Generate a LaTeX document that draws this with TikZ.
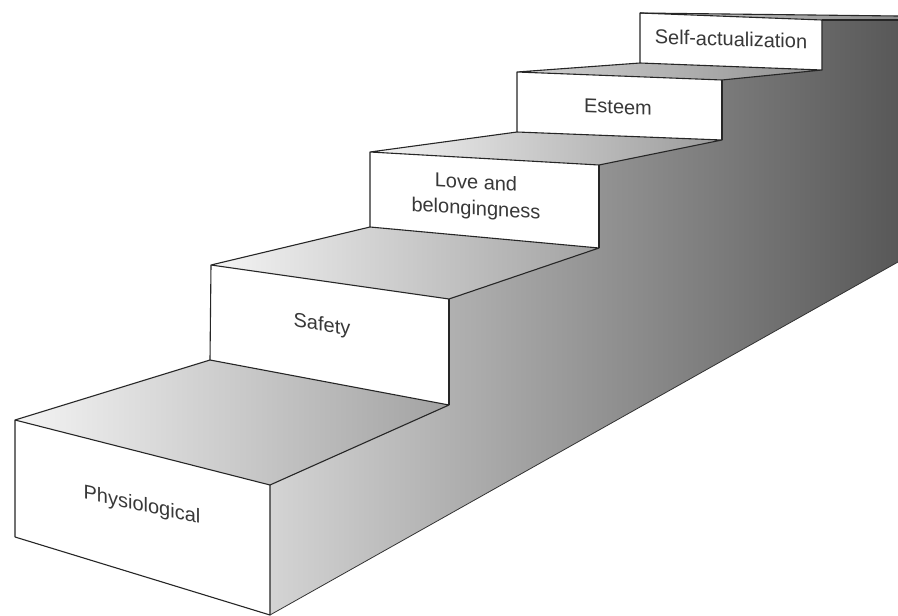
\documentclass[tikz,border=0pt]{standalone}
\usepackage{fontspec}
\setmainfont{Liberation Sans}
\begin{document}
\begin{tikzpicture}[x=1pt,y=-1pt,
  edge/.style={draw=black!85, line width=1.1pt, line join=round},
  frontface/.style={fill=white},
  lbl/.style={font=\fontsize{20}{24}\selectfont, text=black!78, align=center, inner sep=0pt}]
\definecolor{walllight}{HTML}{D4D4D4}
\definecolor{walldark}{HTML}{585858}
\definecolor{toplight}{HTML}{F4F4F4}
\definecolor{topdark}{HTML}{A2A2A2}
\useasboundingbox (0,0) rectangle (898,616);
% right wall
\shade[left color=walllight, right color=walldark]
  (270,485) -- (449,405) -- (449,299) -- (599,248) -- (599,165) -- (722,140)
  -- (722,80) -- (822,70) -- (822,20) -- (898,20) -- (898,262) -- (270,615) -- cycle;
% top faces
\shade[left color=toplight, right color=topdark] (15,420) -- (210,360) -- (449,405) -- (270,485) -- cycle;
\shade[left color=toplight, right color=topdark] (211,265) -- (370,227) -- (599,248) -- (449,299) -- cycle;
\shade[left color=toplight, right color=topdark!95!black] (370,152) -- (517,132) -- (722,140) -- (599,165) -- cycle;
\shade[left color=black!18, right color=topdark!90!black] (517,72) -- (640,63) -- (822,70) -- (722,80) -- cycle;
\shade[left color=black!18, right color=black!45] (640,13) -- (898,16) -- (898,20) -- (822,20) -- cycle;
% front faces
\path[frontface] (15,420) -- (270,485) -- (270,615) -- (15,537) -- cycle;
\path[frontface] (211,265) -- (449,299) -- (449,405) -- (211,360) -- cycle;
\path[frontface] (370,152) -- (599,165) -- (599,248) -- (370,227) -- cycle;
\path[frontface] (517,72) -- (722,80) -- (722,132) -- (517,132) -- cycle;
\path[frontface] (640,13) -- (822,20) -- (822,70) -- (640,63) -- cycle;
% outlines: step 1
\draw[edge] (15,537) -- (15,420) -- (210,360) -- (449,405) -- (270,485) -- (15,420);
\draw[edge] (270,485) -- (270,615) -- (15,537);
% step 2
\draw[edge] (210,360) -- (211,265) -- (370,227) -- (599,248) -- (449,299) -- (211,265);
\draw[edge] (449,299) -- (449,405);
% step 3
\draw[edge] (370,227) -- (370,152) -- (517,132) -- (722,140) -- (599,165) -- (370,152);
\draw[edge] (599,165) -- (599,248);
% step 4
\draw[edge] (517,132) -- (517,72) -- (640,63) -- (822,70) -- (722,80) -- (517,72);
\draw[edge] (722,80) -- (722,140);
% step 5
\draw[edge] (640,63) -- (640,13) -- (898,16);
\draw[edge] (640,13) -- (822,20) -- (822,70);
\draw[edge] (822,20) -- (898,20);
\draw[draw=black!80, line width=0.8pt] (270,615) -- (898,262);
% labels
\node[lbl, yslant=-0.21] (phys) at (142,506) {Physiological};
\node[lbl, yslant=-0.15] (safe) at (322,326) {Safety};
\node[lbl, yslant=-0.06] (love1) at (476,182) {Love and};
\node[lbl, yslant=-0.06] (love2) at (476,210) {belongingness};
\node[lbl, yslant=-0.04] (este) at (618,107) {Esteem};
\node[lbl, yslant=-0.03] (self) at (731,39) {Self-actualization};
\end{tikzpicture}
\end{document}
